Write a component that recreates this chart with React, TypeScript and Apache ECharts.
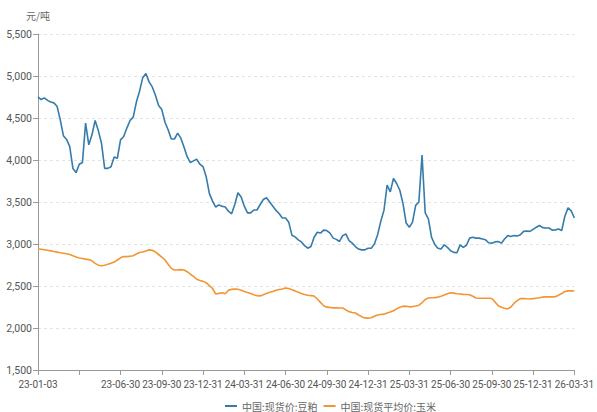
import React, { useEffect, useRef } from "react";
import * as echarts from "echarts";

// Quarter-end tick dates (YY-MM-DD); the one at index 1 is not labelled in the reference
const tickDates = [
  "23-01-03", "23-03-31", "23-06-30", "23-09-30", "23-12-31", "24-03-31", "24-06-30",
  "24-09-30", "24-12-31", "25-03-31", "25-06-30", "25-09-30", "25-12-31", "26-03-31",
];
const hiddenTickLabels = ["23-03-31"];
const stepsPerQuarter = 13; // weekly observations between quarter ends

const soymeal = [
  4750, 4720, 4740, 4710, 4690, 4680, 4640, 4480, 4290, 4245,
  4160, 3900, 3850, 3950, 3970, 4440, 4180, 4300, 4470, 4350,
  4200, 3900, 3900, 3920, 4035, 4020, 4240, 4280, 4380, 4470,
  4510, 4690, 4820, 4980, 5030, 4930, 4870, 4770, 4650, 4600,
  4450, 4360, 4250, 4250, 4320, 4260, 4155, 4040, 3970, 3990,
  4010, 3950, 3920, 3800, 3600, 3510, 3440, 3465, 3450, 3440,
  3390, 3360, 3470, 3610, 3560, 3450, 3370, 3370, 3405, 3405,
  3470, 3530, 3550, 3500, 3450, 3400, 3360, 3310, 3310, 3260,
  3105, 3085, 3050, 3025, 2980, 2950, 2970, 3080, 3140, 3130,
  3165, 3160, 3130, 3070, 3055, 3030, 3100, 3120, 3040, 3010,
  2970, 2940, 2930, 2930, 2950, 2950, 3000, 3110, 3270, 3400,
  3700, 3620, 3780, 3720, 3640, 3480, 3250, 3200, 3260, 3460,
  3500, 4060, 3370, 3300, 3080, 2995, 2950, 2940, 2990, 2960,
  2920, 2900, 2895, 2990, 2960, 2985, 3070, 3080, 3070, 3070,
  3060, 3050, 3015, 3010, 3025, 3030, 3010, 3060, 3100, 3090,
  3100, 3095, 3110, 3150, 3155, 3150, 3175, 3200, 3220, 3195,
  3190, 3190, 3165, 3168, 3178, 3160, 3330, 3430, 3395, 3310,
];

const corn = [
  2940, 2938, 2932, 2926, 2918, 2910, 2903, 2896, 2890, 2884,
  2876, 2860, 2845, 2834, 2828, 2820, 2814, 2800, 2770, 2748,
  2742, 2748, 2758, 2770, 2785, 2810, 2835, 2850, 2850, 2855,
  2860, 2880, 2898, 2905, 2918, 2930, 2925, 2905, 2875, 2845,
  2810, 2760, 2710, 2690, 2692, 2695, 2690, 2670, 2640, 2615,
  2580, 2565, 2555, 2540, 2505, 2470, 2405, 2412, 2420, 2408,
  2450, 2460, 2465, 2462, 2450, 2435, 2422, 2410, 2395, 2385,
  2382, 2395, 2412, 2425, 2435, 2450, 2458, 2465, 2475, 2470,
  2455, 2442, 2425, 2410, 2398, 2390, 2385, 2380, 2345, 2305,
  2265, 2248, 2245, 2240, 2240, 2238, 2238, 2215, 2195, 2185,
  2178, 2155, 2135, 2120, 2118, 2122, 2140, 2155, 2160, 2165,
  2178, 2190, 2205, 2228, 2248, 2260, 2258, 2252, 2255, 2262,
  2272, 2300, 2340, 2358, 2360, 2362, 2368, 2378, 2392, 2408,
  2420, 2415, 2408, 2405, 2400, 2398, 2395, 2378, 2358, 2355,
  2355, 2355, 2355, 2352, 2310, 2265, 2248, 2235, 2228, 2250,
  2295, 2325, 2350, 2352, 2348, 2345, 2350, 2355, 2360, 2368,
  2370, 2370, 2370, 2372, 2390, 2410, 2435, 2442, 2442, 2440,
];

const seriesNames = ["中国:现货价:豆粕", "中国:现货平均价:玉米"];
const yAxisName = "元/吨";

function parseYMD(s: string): number {
  const [y, m, d] = s.split("-").map(Number);
  return Date.UTC(2000 + y, m - 1, d);
}
function fmt(t: number): string {
  const d = new Date(t);
  const p = (n: number) => String(n).padStart(2, "0");
  return `${p(d.getUTCFullYear() % 100)}-${p(d.getUTCMonth() + 1)}-${p(d.getUTCDate())}`;
}

// category dates: quarter ends plus evenly spaced weekly-ish dates between them
const categories: string[] = [];
for (let q = 0; q < tickDates.length - 1; q++) {
  const a = parseYMD(tickDates[q]);
  const b = parseYMD(tickDates[q + 1]);
  categories.push(tickDates[q]);
  for (let k = 1; k < stepsPerQuarter; k++) {
    categories.push(fmt(a + ((b - a) * k) / stepsPerQuarter));
  }
}
categories.push(tickDates[tickDates.length - 1]);

export default function App() {
  const ref = useRef<HTMLDivElement>(null);
  useEffect(() => {
    if (!ref.current) return;
    const chart = echarts.init(ref.current, undefined, { renderer: "svg" });
    const font = "'Noto Sans CJK SC', 'Noto Sans', sans-serif";
    const numFont = "Roboto, 'Noto Sans', sans-serif";
    const isTick = (i: number) => i % stepsPerQuarter === 0;
    chart.setOption({
      animation: false,
      textStyle: { fontFamily: font },
      grid: { left: 38, right: 19, top: 34, bottom: 42, containLabel: false },
      legend: {
        left: 220,
        top: 396,
        icon: "rect",
        itemWidth: 12,
        itemHeight: 2,
        itemGap: 6,
        textStyle: { fontSize: 10, color: "#666", fontFamily: font },
        data: seriesNames,
      },
      xAxis: {
        type: "category",
        data: categories,
        boundaryGap: false,
        axisLine: { lineStyle: { color: "#9a9a9a", width: 1 } },
        axisTick: {
          show: true,
          interval: (i: number) => isTick(i),
          length: 5,
          lineStyle: { color: "#9a9a9a" },
        },
        axisLabel: {
          interval: (i: number) => isTick(i),
          formatter: (v: string) => (hiddenTickLabels.includes(v) ? "" : v),
          color: "#555",
          fontSize: 10,
          fontFamily: numFont,
          margin: 9,
          hideOverlap: false,
          showMinLabel: true,
          showMaxLabel: true,
        },
        splitLine: { show: false },
      },
      yAxis: {
        type: "value",
        min: 1500,
        max: 5500,
        interval: 500,
        name: yAxisName,
        nameGap: 14,
        nameTextStyle: { color: "#666", fontSize: 10, align: "center" },
        axisLine: { show: true, lineStyle: { color: "#9a9a9a" } },
        axisTick: { show: true, length: 5, lineStyle: { color: "#9a9a9a" } },
        axisLabel: {
          color: "#555",
          fontSize: 10.5,
          fontFamily: numFont,
          margin: 6,
          formatter: (v: number) => v.toLocaleString("en-US"),
        },
        splitLine: { show: true, lineStyle: { color: "#e3e3e3", type: [3, 3] } },
      },
      series: [
        {
          name: seriesNames[0],
          type: "line",
          data: soymeal,
          showSymbol: false,
          lineStyle: { color: "#357caa", width: 1.6 },
          itemStyle: { color: "#357caa" },
        },
        {
          name: seriesNames[1],
          type: "line",
          data: corn,
          showSymbol: false,
          lineStyle: { color: "#f29535", width: 1.6 },
          itemStyle: { color: "#f29535" },
        },
      ],
    });
    return () => chart.dispose();
  }, []);
  return (
    <div
      ref={ref}
      style={{ position: "fixed", left: 0, top: 0, width: 597, height: 412, background: "#fff" }}
    />
  );
}
